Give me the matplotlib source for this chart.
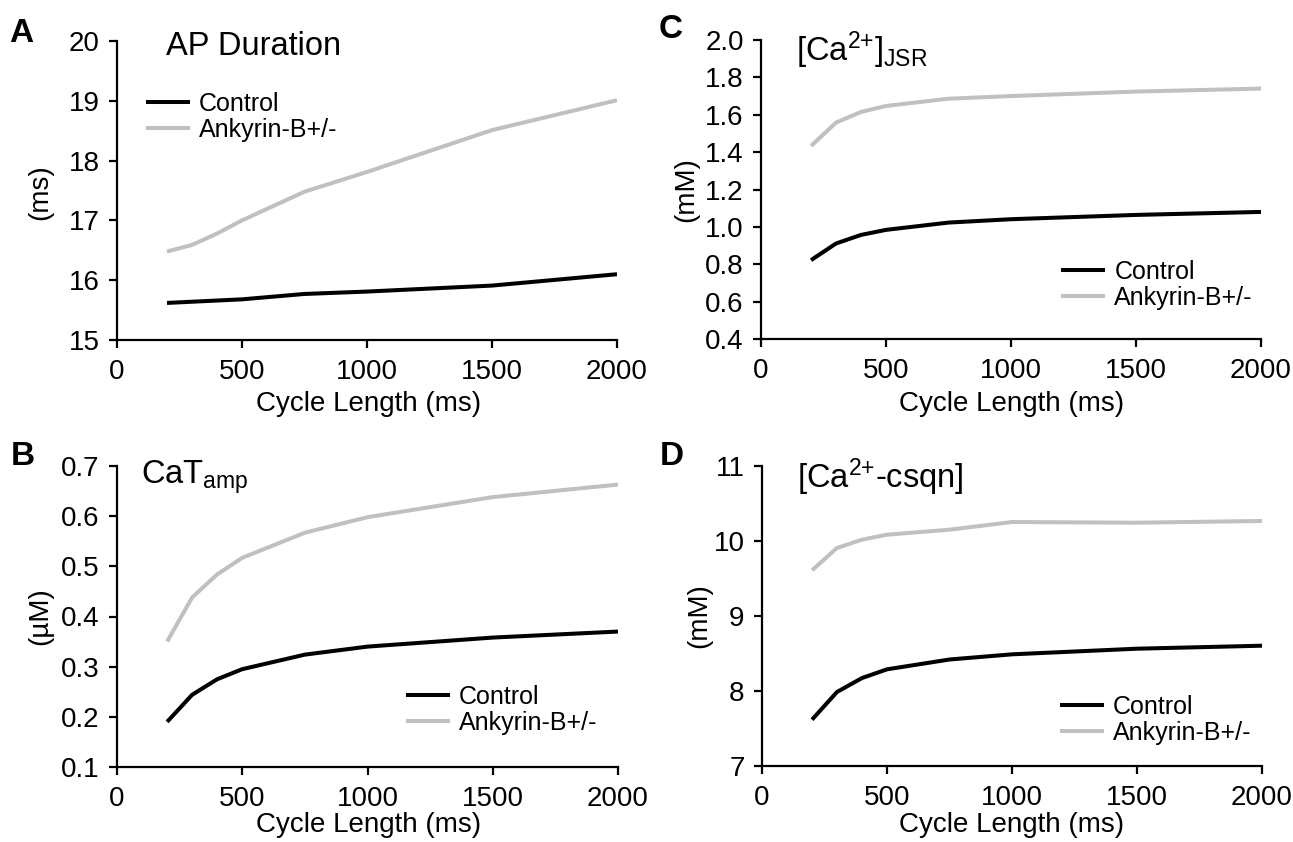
import matplotlib
matplotlib.use("Agg")
import matplotlib.pyplot as plt
from matplotlib.lines import Line2D

plt.rcParams['font.family'] = ['Liberation Sans', 'DejaVu Sans']
plt.rcParams['mathtext.fontset'] = 'custom'
plt.rcParams['mathtext.rm'] = 'Liberation Sans'
plt.rcParams['mathtext.it'] = 'Liberation Sans:italic'
plt.rcParams['mathtext.bf'] = 'Liberation Sans:bold'

# ---------------- data ----------------
cycle_length = [200, 300, 400, 500, 750, 1000, 1500, 2000]

apd_control = [15.62, 15.64, 15.66, 15.68, 15.77, 15.81, 15.91, 16.10]
apd_ankb = [16.48, 16.59, 16.78, 17.00, 17.48, 17.81, 18.51, 19.01]

cat_control = [0.190, 0.244, 0.275, 0.295, 0.324, 0.340, 0.358, 0.370]
cat_ankb = [0.350, 0.438, 0.484, 0.517, 0.567, 0.598, 0.638, 0.663]

jsr_control = [0.822, 0.911, 0.957, 0.984, 1.023, 1.041, 1.064, 1.080]
jsr_ankb = [1.433, 1.558, 1.615, 1.647, 1.686, 1.700, 1.724, 1.740]

csqn_control = [7.618, 7.987, 8.173, 8.289, 8.420, 8.489, 8.564, 8.604]
csqn_ankb = [9.609, 9.907, 10.018, 10.084, 10.151, 10.253, 10.244, 10.267]

series_labels = ['Control', 'Ankyrin-B+/-']
x_ticks = [0, 500, 1000, 1500, 2000]
apd_yticks = [15, 16, 17, 18, 19, 20]
jsr_yticks = [0.4, 0.6, 0.8, 1.0, 1.2, 1.4, 1.6, 1.8, 2.0]
cat_yticks = [0.1, 0.2, 0.3, 0.4, 0.5, 0.6, 0.7]
csqn_yticks = [7, 8, 9, 10, 11]

# ---------------- layout ----------------
W, H = 1293, 842
fig = plt.figure(figsize=(W / 100, H / 100), dpi=100)

BLACK = '#000000'
GRAY = '#c0c0c0'
LW = 2.9
TICK_FS = 20
LEG_FS = 18
TITLE_FS = 23.5


def rect(l, r, t, b):
    return [l / W, 1 - b / H, (r - l) / W, (b - t) / H]


def fx(x):
    return x / W


def fy(y):
    return 1 - y / H


def style_axes(ax, yticks, ylim, fmt):
    ax.set_xlim(0, 2000)
    ax.set_ylim(*ylim)
    for s in ['top', 'right']:
        ax.spines[s].set_visible(False)
    for s in ['left', 'bottom']:
        ax.spines[s].set_linewidth(1.6)
    ax.set_xticks(x_ticks)
    ax.set_yticks(yticks)
    ax.set_yticklabels([fmt.format(v) for v in yticks])
    ax.tick_params(axis='both', labelsize=TICK_FS, width=1.6, direction='out')
    ax.tick_params(axis='x', length=5.5, pad=8)
    ax.tick_params(axis='y', length=5.5, pad=7)


def draw(ax, ctrl, ankb):
    ax.plot(cycle_length, ankb, color=GRAY, lw=LW, solid_capstyle='butt')
    ax.plot(cycle_length, ctrl, color=BLACK, lw=LW, solid_capstyle='butt')


def add_legend(ax, x, y):
    handles = [Line2D([], [], color=BLACK, lw=LW),
               Line2D([], [], color=GRAY, lw=LW)]
    ax.legend(handles, series_labels, loc='center left',
              bbox_to_anchor=(fx(x), fy(y)), bbox_transform=fig.transFigure,
              frameon=False, borderpad=0, borderaxespad=0,
              handlelength=1.6, handletextpad=0.45, labelspacing=0.08,
              fontsize=LEG_FS)


# Panel A
axA = fig.add_axes(rect(117, 617, 41, 340))
draw(axA, apd_control, apd_ankb)
style_axes(axA, apd_yticks, (15, 20), '{:d}')
add_legend(axA, 148, 117)

# Panel C
axC = fig.add_axes(rect(761, 1261, 40, 339))
draw(axC, jsr_control, jsr_ankb)
style_axes(axC, jsr_yticks, (0.4, 2.0), '{:.1f}')
add_legend(axC, 1063, 285)

# Panel B
axB = fig.add_axes(rect(117, 618, 466, 767))
draw(axB, cat_control, cat_ankb)
style_axes(axB, cat_yticks, (0.1, 0.7), '{:.1f}')
add_legend(axB, 408, 710)

# Panel D
axD = fig.add_axes(rect(762, 1262, 466, 766))
draw(axD, csqn_control, csqn_ankb)
style_axes(axD, csqn_yticks, (7, 11), '{:d}')
add_legend(axD, 1062, 720)

# x labels
for xc, yb in [(369, 411), (1012, 411), (369, 832), (1012, 832)]:
    fig.text(fx(xc), fy(yb), 'Cycle Length (ms)', ha='center', va='baseline',
             fontsize=TICK_FS)

# y labels
for xc, yc, lab in [(40, 192, '(ms)'), (686, 190, '(mM)'),
                    (40, 616, '(\u00b5M)'), (699, 616, '(mM)')]:
    fig.text(fx(xc), fy(yc), lab, ha='center', va='center', rotation=90,
             fontsize=TICK_FS)

# titles
fig.text(fx(166), fy(55), 'AP Duration', ha='left', va='baseline', fontsize=TITLE_FS)
fig.text(fx(796), fy(61), r'[Ca$^{\mathregular{2{+}}}$]$_{\mathregular{JSR}}$',
         ha='left', va='baseline', fontsize=TITLE_FS)
fig.text(fx(141), fy(484), r'CaT$_{\mathregular{amp}}$', ha='left',
         va='baseline', fontsize=TITLE_FS)
fig.text(fx(797), fy(488), r'[Ca$^{\mathregular{2{+}}}$-csqn]', ha='left',
         va='baseline', fontsize=TITLE_FS)

# panel letters
for x, yb, letter in [(9, 42, 'A'), (659, 38, 'C'), (11, 465, 'B'), (660, 465, 'D')]:
    fig.text(fx(x), fy(yb), letter, ha='left', va='baseline', fontsize=24,
             fontweight='bold')

fig.savefig('out.png', dpi=100, facecolor='white')
